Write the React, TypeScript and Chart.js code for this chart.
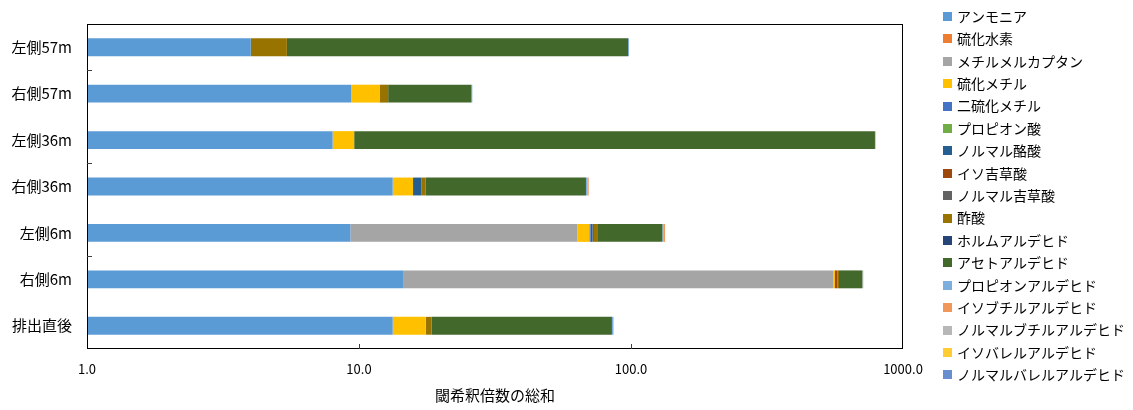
import { useEffect, useRef } from 'react';
import { Chart, registerables } from 'chart.js';

Chart.register(...registerables);

// Sampling points, top to bottom
const categories = ['左側57m', '右側57m', '左側36m', '右側36m', '左側6m', '右側6m', '排出直後'];

// Odour threshold dilution factors per compound (stacked)
const ammonia = [4.0, 9.35, 8.0, 13.3, 9.3, 14.6, 13.3];
const hydrogenSulfide = [0, 0, 0, 0, 0, 0, 0];
const methylMercaptan = [0, 0, 0, 0, 54.2, 539.6, 0];
const methylSulfide = [0, 2.55, 1.6, 2.5, 6.8, 8.1, 4.3];
const dimethylDisulfide = [0, 0, 0, 0, 0.8, 0, 0];
const propionicAcid = [0, 0, 0, 0, 0, 0, 0];
const nButyricAcid = [0, 0, 0, 1.1, 1.0, 0, 0];
const isovalericAcid = [0, 0, 0, 0, 0, 11.2, 0];
const nValericAcid = [0, 0, 0, 0.1, 1.0, 0, 0];
const aceticAcid = [1.43, 0.9, 0, 0.6, 2.5, 8.3, 0.9];
const formaldehyde = [0, 0, 0, 0, 0, 0, 0];
const acetaldehyde = [92.1, 13.1, 779, 50.7, 54.8, 126.9, 66.6];
const propionaldehyde = [0.8, 0.2, 4.0, 0.8, 1.5, 0, 1.15];
const isobutyraldehyde = [0, 0, 0, 0.8, 1.5, 0, 0];
const nButyraldehyde = [0, 0, 0, 0, 0, 5.9, 0];
const isovaleraldehyde = [0, 0, 0, 0, 0, 0, 0];
const nValeraldehyde = [0, 0, 0, 0, 0, 0, 0];

const seriesNames = [
  'アンモニア', '硫化水素', 'メチルメルカプタン', '硫化メチル', '二硫化メチル',
  'プロピオン酸', 'ノルマル酪酸', 'イソ吉草酸', 'ノルマル吉草酸', '酢酸',
  'ホルムアルデヒド', 'アセトアルデヒド', 'プロピオンアルデヒド', 'イソブチルアルデヒド',
  'ノルマルブチルアルデヒド', 'イソバレルアルデヒド', 'ノルマルバレルアルデヒド',
];
const seriesValues = [
  ammonia, hydrogenSulfide, methylMercaptan, methylSulfide, dimethylDisulfide,
  propionicAcid, nButyricAcid, isovalericAcid, nValericAcid, aceticAcid,
  formaldehyde, acetaldehyde, propionaldehyde, isobutyraldehyde,
  nButyraldehyde, isovaleraldehyde, nValeraldehyde,
];
const seriesColors = [
  '#5B9BD5', '#ED7D31', '#A5A5A5', '#FFC000', '#4472C4',
  '#70AD47', '#255E91', '#9E480E', '#636363', '#997300',
  '#264478', '#43682B', '#7CAFDD', '#F1975A',
  '#B7B7B7', '#FFCD33', '#698ED0',
];

const xTickValues = [1, 10, 100, 1000];
const xInnerTickValues = [10, 100];
const xTitle = '閾希釈倍数の総和';

const FONT = '"Noto Sans CJK JP", "Noto Sans", sans-serif';
const TEXT = '#000000';

// Legend layout (right-hand column)
const LEGEND_BOX_X = 943;
const LEGEND_TEXT_X = 957;
const LEGEND_FIRST_Y = 16.5;
const LEGEND_STEP = 22.4;
const LEGEND_BOX = 9;

// Plot frame plus short inward tick marks
const framePlugin = {
  id: 'plotFrame',
  afterDatasetsDraw(chart: any) {
    const { ctx, chartArea: a, scales } = chart;
    const xs = scales.x;
    const ys = scales.y;
    ctx.save();
    ctx.strokeStyle = '#000000';
    ctx.lineWidth = 1;
    ctx.strokeRect(a.left + 0.5, a.top + 0.5, a.right - a.left - 1, a.bottom - a.top - 1);
    ctx.strokeStyle = '#404040';
    ctx.beginPath();
    for (const v of xInnerTickValues) {
      const px = Math.round(xs.getPixelForValue(v)) + 0.5;
      ctx.moveTo(px, a.bottom);
      ctx.lineTo(px, a.bottom - 5);
    }
    for (let i = 0; i + 1 < categories.length; i += 2) {
      const py = Math.round((ys.getPixelForValue(i) + ys.getPixelForValue(i + 1)) / 2) + 0.5;
      ctx.moveTo(a.left, py);
      ctx.lineTo(a.left + 5, py);
    }
    ctx.stroke();
    ctx.restore();
  },
};

// Single-column legend listing every dataset with its colour swatch
const legendPlugin = {
  id: 'sideLegend',
  afterDraw(chart: any) {
    const { ctx } = chart;
    ctx.save();
    ctx.font = `14px ${FONT}`;
    ctx.textBaseline = 'middle';
    ctx.textAlign = 'left';
    chart.data.datasets.forEach((ds: any, i: number) => {
      const cy = LEGEND_FIRST_Y + i * LEGEND_STEP;
      ctx.fillStyle = ds.backgroundColor;
      ctx.fillRect(LEGEND_BOX_X, Math.round(cy - LEGEND_BOX / 2), LEGEND_BOX, LEGEND_BOX);
      ctx.fillStyle = TEXT;
      ctx.fillText(ds.label, LEGEND_TEXT_X, cy);
    });
    ctx.restore();
  },
};

export default function App() {
  const canvasRef = useRef<HTMLCanvasElement | null>(null);

  useEffect(() => {
    const canvas = canvasRef.current;
    if (!canvas) return;
    const chart = new Chart(canvas, {
      type: 'bar',
      data: {
        labels: categories,
        datasets: seriesNames.map((name, i) => ({
          label: name,
          data: seriesValues[i],
          backgroundColor: seriesColors[i],
          borderWidth: 0,
          barPercentage: 0.385,
          categoryPercentage: 1,
        })),
      },
      options: {
        indexAxis: 'y',
        animation: false,
        responsive: true,
        maintainAspectRatio: false,
        layout: { padding: { top: 15, right: 230, left: 0, bottom: 0 } },
        scales: {
          x: {
            type: 'logarithmic',
            stacked: true,
            min: 1,
            max: 1000,
            afterBuildTicks: (s: any) => {
              s.ticks = xTickValues.map((value) => ({ value }));
            },
            afterFit: (s: any) => {
              s.height = 61;
            },
            ticks: {
              color: TEXT,
              font: { family: FONT, size: 13 },
              padding: 12,
              maxRotation: 0,
              autoSkip: false,
              callback: (v: any) => Number(v).toFixed(1),
            },
            grid: { display: false, drawTicks: false },
            border: { display: false },
            title: {
              display: true,
              text: xTitle,
              color: TEXT,
              font: { family: FONT, size: 15 },
              padding: { top: 0, bottom: 6 },
            },
          },
          y: {
            type: 'category',
            stacked: true,
            afterFit: (s: any) => {
              s.width = 87;
            },
            ticks: {
              color: TEXT,
              font: { family: FONT, size: 15 },
              padding: 15,
            },
            grid: { display: false, drawTicks: false },
            border: { display: false },
          },
        },
        plugins: {
          legend: { display: false },
          tooltip: { enabled: false },
        },
      },
      plugins: [framePlugin, legendPlugin],
    });
    return () => chart.destroy();
  }, []);

  return (
    <div style={{ position: 'fixed', left: 0, top: 0, width: 1133, height: 410, background: '#ffffff' }}>
      <canvas ref={canvasRef} />
    </div>
  );
}
